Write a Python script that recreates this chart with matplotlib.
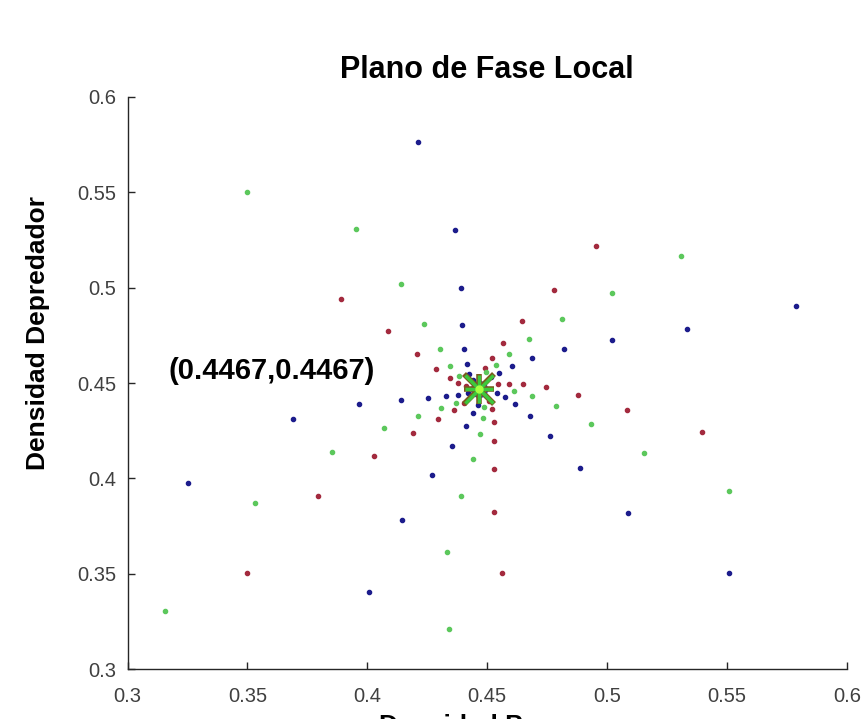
import matplotlib
matplotlib.use('Agg')
import matplotlib.pyplot as plt

plt.rcParams['font.family'] = ['Liberation Sans', 'DejaVu Sans']

# --- DATA ---
eq_x = 0.4467
eq_y = 0.4467
eq_label = "(0.4467,0.4467)"

blue_x = [0.4212, 0.4366, 0.4390, 0.4394, 0.4404, 0.4414, 0.4424, 0.4440,
          0.5786, 0.5334, 0.5021, 0.4818, 0.4686, 0.4602, 0.4550, 0.4515,
          0.3254, 0.3691, 0.3965, 0.4139, 0.4253, 0.4329, 0.4376, 0.4420,
          0.4007, 0.4146, 0.4269, 0.4355, 0.4410, 0.4441, 0.4460,
          0.5508, 0.5088, 0.4886, 0.4763, 0.4679, 0.4617, 0.4573, 0.4541]
blue_y = [0.5762, 0.5304, 0.5000, 0.4805, 0.4679, 0.4598, 0.4547, 0.4515,
          0.4902, 0.4784, 0.4726, 0.4677, 0.4630, 0.4589, 0.4554, 0.4530,
          0.3977, 0.4309, 0.4389, 0.4412, 0.4421, 0.4430, 0.4437, 0.4448,
          0.3405, 0.3781, 0.4019, 0.4172, 0.4274, 0.4341, 0.4386,
          0.3502, 0.3816, 0.4056, 0.4221, 0.4326, 0.4389, 0.4428, 0.4447]

red_x = [0.3890, 0.4088, 0.4207, 0.4286, 0.4344, 0.4380, 0.4410,
         0.4952, 0.4778, 0.4645, 0.4567, 0.4520, 0.4492,
         0.5396, 0.5084, 0.4879, 0.4743, 0.4648, 0.4589, 0.4546,
         0.4563, 0.4527, 0.4528, 0.4529, 0.4527, 0.4518, 0.4506,
         0.3498, 0.3794, 0.4028, 0.4189, 0.4295, 0.4360, 0.4404]
red_y = [0.4938, 0.4774, 0.4651, 0.4574, 0.4528, 0.4500, 0.4482,
         0.5217, 0.4986, 0.4826, 0.4712, 0.4633, 0.4577,
         0.4244, 0.4360, 0.4435, 0.4481, 0.4493, 0.4496, 0.4496,
         0.3502, 0.3821, 0.4047, 0.4196, 0.4298, 0.4362, 0.4404,
         0.3504, 0.3907, 0.4118, 0.4239, 0.4311, 0.4359, 0.4395]

green_x = [0.3498, 0.3954, 0.4142, 0.4237, 0.4302, 0.4345, 0.4383,
           0.5306, 0.5021, 0.4812, 0.4674, 0.4589, 0.4536, 0.4495,
           0.5509, 0.5152, 0.4934, 0.4787, 0.4686, 0.4613,
           0.4341, 0.4334, 0.4390, 0.4440, 0.4469, 0.4483, 0.4487,
           0.3158, 0.3533, 0.3854, 0.4070, 0.4213, 0.4306, 0.4369]
green_y = [0.5501, 0.5307, 0.5017, 0.4809, 0.4677, 0.4591, 0.4538,
           0.5168, 0.4974, 0.4837, 0.4732, 0.4653, 0.4596, 0.4556,
           0.3933, 0.4135, 0.4283, 0.4379, 0.4432, 0.4458,
           0.3209, 0.3616, 0.3907, 0.4100, 0.4232, 0.4316, 0.4372,
           0.3302, 0.3872, 0.4140, 0.4262, 0.4326, 0.4368, 0.4395]

ticks = [0.3, 0.35, 0.4, 0.45, 0.5, 0.55, 0.6]
tick_labels = ['0.3', '0.35', '0.4', '0.45', '0.5', '0.55', '0.6']

# --- PLOT ---
fig = plt.figure(figsize=(8.64, 7.19), dpi=100)
ax = fig.add_axes([0.1476, 0.0695, 0.8327, 0.7956])

ax.plot(blue_x, blue_y, '.', color='#1c1c8c', markersize=6)
ax.plot(red_x, red_y, '.', color='#a32a3e', markersize=6)
ax.plot(green_x, green_y, '.', color='#5cc85c', markersize=6)

# equilibrium marker: matlab-style asterisk (plus + cross), stacked colours
ax.plot(eq_x, eq_y, 'o', mfc='none', mec='#2a3cc8', markersize=11, mew=1.5)
for m in ['+', 'x']:
    ax.plot(eq_x, eq_y, m, color='#7a5a1e', markersize=22, mew=4)
for m in ['+', 'x']:
    ax.plot(eq_x, eq_y, m, color='#3cc83c', markersize=20, mew=2.5)
ax.plot(eq_x, eq_y, 'o', color='#a8ff40', markersize=5)

ax.text(0.317, 0.4563, eq_label, fontsize=21, fontweight='bold', va='center', ha='left')

ax.set_xlim(0.3, 0.6)
ax.set_ylim(0.3, 0.6)
ax.set_xticks(ticks)
ax.set_xticklabels(tick_labels)
ax.set_yticks(ticks)
ax.set_yticklabels(tick_labels)

for s in ['top', 'right']:
    ax.spines[s].set_visible(False)
for s in ['left', 'bottom']:
    ax.spines[s].set_color('#262626')
    ax.spines[s].set_linewidth(1.0)

ax.tick_params(direction='in', length=5, width=1, colors='#262626', labelcolor='#404040',
               labelsize=14.5, pad=8)
ax.tick_params(axis='x', pad=13)

ax.set_title("Plano de Fase Local", fontsize=22, fontweight='bold', pad=14)
ax.set_ylabel("Densidad Depredador", fontsize=19, fontweight='bold')
ax.yaxis.set_label_coords(-0.108, 0.587)
# x label sits low, partly below the canvas edge as in the original
fig.text(0.553, 0.007, "Densidad Presa", fontsize=19, fontweight='bold', ha='center', va='top')

plt.savefig('out.png', dpi=100)
